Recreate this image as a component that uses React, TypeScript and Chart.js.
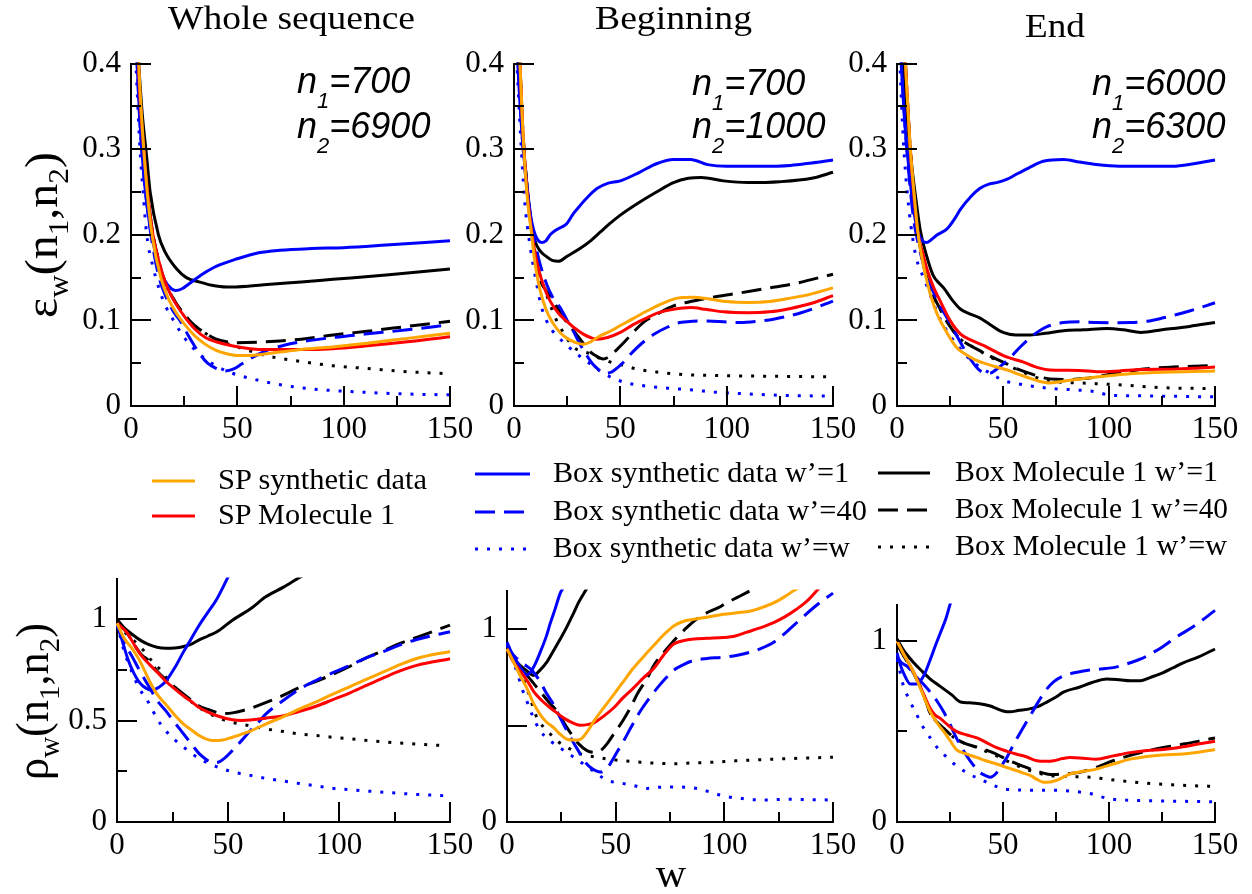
import React, { useEffect, useRef } from "react";
import { Chart, registerables } from "chart.js";

Chart.register(...registerables);

type Pt = [number, number];

// ---------- tick values ----------
const wTicks = [0, 50, 100, 150];
const wMinor = [25, 75, 125];
const epsTicks = [0, 0.1, 0.2, 0.3, 0.4];
const epsMinor = [0.05, 0.15, 0.25, 0.35];
const rhoTicksWhole = [0, 0.5, 1];
const rhoTicksPart = [0, 1];

// ---------- series names ----------
const seriesNames = [
  "SP synthetic data",
  "SP Molecule 1",
  "Box synthetic data w\u2019=1",
  "Box synthetic data w\u2019=40",
  "Box synthetic data w\u2019=w",
  "Box Molecule 1 w\u2019=1",
  "Box Molecule 1 w\u2019=40",
  "Box Molecule 1 w\u2019=w",
];

// ---------- epsilon, whole sequence ----------
const wsSpSyn: Pt[] = [[2,0.5],[4,0.38],[6,0.3],[8,0.24],[10,0.198],[14,0.15],[18,0.123],[22,0.106],[26,0.093],[30,0.082],[35,0.072],[40,0.065],[45,0.061],[50,0.059],[55,0.059],[60,0.06],[70,0.063],[80,0.066],[95,0.069],[110,0.073],[130,0.079],[150,0.085]];
const wsSpMol: Pt[] = [[2,0.5],[4,0.37],[6,0.3],[8,0.245],[10,0.205],[13,0.17],[16,0.145],[20,0.124],[25,0.105],[30,0.09],[35,0.08],[40,0.075],[48,0.07],[56,0.067],[64,0.066],[80,0.066],[95,0.067],[110,0.07],[130,0.075],[150,0.081]];
const wsBoxSyn1: Pt[] = [[2,0.45],[4,0.34],[6,0.27],[8,0.225],[10,0.195],[13,0.165],[16,0.146],[19,0.137],[21,0.135],[24,0.137],[28,0.144],[33,0.153],[40,0.163],[50,0.172],[60,0.179],[70,0.182],[85,0.184],[100,0.185],[120,0.188],[150,0.193]];
const wsBoxSyn40: Pt[] = [[2,0.45],[4,0.34],[6,0.27],[8,0.225],[10,0.19],[13,0.152],[16,0.13],[20,0.11],[23,0.1],[27,0.082],[32,0.062],[36,0.05],[40,0.044],[44,0.041],[48,0.043],[52,0.049],[58,0.058],[64,0.065],[72,0.071],[80,0.075],[95,0.08],[110,0.084],[130,0.089],[150,0.095]];
const wsBoxSynW: Pt[] = [[2,0.42],[4,0.31],[6,0.24],[7.4,0.2],[10.5,0.161],[13.6,0.134],[16,0.118],[20,0.1],[25,0.08],[32,0.061],[40,0.047],[48,0.038],[60,0.03],[72,0.024],[85,0.02],[95,0.018],[110,0.016],[130,0.014],[150,0.013]];
const wsBoxMol1: Pt[] = [[2,0.5],[3,0.43],[5,0.35],[7.4,0.29],[9,0.25],[12.9,0.2],[16,0.18],[21.5,0.16],[26,0.15],[32,0.145],[38,0.141],[45,0.139],[55,0.14],[64,0.142],[80,0.145],[95,0.148],[120,0.153],[150,0.16]];
const wsBoxMol40: Pt[] = [[2,0.5],[4,0.37],[6,0.3],[8,0.245],[10,0.205],[13,0.17],[16,0.145],[20,0.125],[25,0.107],[30,0.094],[35,0.085],[40,0.078],[45,0.075],[50,0.074],[60,0.0745],[70,0.076],[80,0.078],[95,0.083],[110,0.087],[130,0.093],[150,0.099]];
const wsBoxMolW: Pt[] = [[2,0.5],[4,0.37],[6,0.3],[8,0.245],[10,0.205],[13,0.17],[16,0.145],[20,0.125],[25,0.107],[30,0.094],[35,0.085],[40,0.078],[45,0.073],[50,0.069],[55,0.065],[65,0.058],[80,0.052],[95,0.047],[110,0.044],[130,0.04],[147,0.038]];

// ---------- epsilon, beginning ----------
const bgSpSyn: Pt[] = [[2,0.45],[4,0.33],[6,0.25],[8.3,0.2],[10,0.165],[12,0.138],[15,0.113],[18.5,0.096],[22,0.085],[25,0.079],[29,0.074],[32.6,0.072],[36,0.075],[40.5,0.082],[45,0.087],[50,0.094],[56,0.102],[62.5,0.111],[70,0.12],[77,0.126],[84,0.127],[92,0.125],[100,0.122],[110,0.121],[120,0.122],[130,0.126],[140,0.131],[150,0.138]];
const bgSpMol: Pt[] = [[2,0.45],[4,0.33],[6,0.255],[8.5,0.2],[11,0.165],[14,0.14],[17,0.1225],[21,0.108],[24.8,0.099],[28,0.092],[32.6,0.084],[36,0.08],[39,0.078],[44,0.08],[50,0.086],[56,0.095],[62.5,0.103],[68,0.109],[75,0.113],[83,0.115],[90,0.113],[98.5,0.11],[110,0.109],[120,0.11],[130,0.114],[140,0.12],[150,0.129]];
const bgBoxSyn1: Pt[] = [[1,0.45],[2,0.39],[4,0.31],[6,0.26],[8,0.22],[10,0.2],[13,0.191],[15,0.193],[17,0.2],[20,0.206],[24.8,0.213],[28,0.225],[31,0.234],[35,0.245],[39,0.254],[44,0.26],[50,0.263],[59,0.273],[67,0.283],[75,0.288],[83,0.288],[91,0.282],[100,0.28],[115,0.28],[130,0.281],[140,0.284],[150,0.2875]];
const bgBoxSyn40: Pt[] = [[1,0.45],[2,0.4],[4,0.31],[6,0.255],[8,0.215],[10,0.19],[12,0.168],[15.4,0.142],[18,0.128],[21.7,0.115],[25,0.1],[28,0.087],[31,0.0725],[34,0.06],[37,0.049],[40,0.042],[42,0.0385],[45,0.039],[47,0.0416],[51,0.05],[55,0.061],[60,0.073],[66,0.084],[72,0.092],[78,0.0975],[84,0.099],[91,0.0994],[100,0.098],[106,0.0975],[115,0.099],[122,0.1014],[135,0.109],[150,0.1225]];
const bgBoxSynW: Pt[] = [[1,0.42],[3,0.32],[5,0.24],[7.5,0.188],[10.7,0.142],[13,0.115],[17,0.0917],[21,0.08],[25,0.0705],[30,0.06],[36,0.049],[41,0.04],[47,0.032],[53,0.027],[59,0.0243],[67,0.022],[75,0.0204],[85,0.0185],[95,0.016],[106,0.0146],[120,0.013],[135,0.012],[150,0.0116]];
const bgBoxMol1: Pt[] = [[1,0.45],[2,0.4],[4,0.32],[6,0.26],[8,0.215],[10,0.192],[12,0.182],[15,0.175],[18,0.17],[21,0.169],[25,0.175],[31,0.184],[36,0.193],[40.5,0.203],[45,0.213],[50,0.223],[59,0.238],[67,0.25],[75,0.261],[82,0.266],[88,0.267],[98.5,0.263],[110,0.261],[125,0.262],[140,0.266],[150,0.273]];
const bgBoxMol40: Pt[] = [[2,0.45],[4,0.33],[6,0.26],[8.5,0.205],[12,0.15],[15,0.135],[18.5,0.1225],[22,0.108],[25,0.097],[28,0.088],[32,0.075],[36,0.063],[39,0.058],[42,0.055],[45,0.058],[48,0.065],[52,0.075],[56,0.086],[61,0.098],[67,0.107],[75,0.117],[83,0.122],[91,0.126],[106,0.132],[120,0.138],[130,0.142],[150,0.154]];
const bgBoxMolW: Pt[] = [[2,0.42],[4,0.31],[6,0.25],[8.5,0.2],[12,0.155],[16,0.125],[20,0.1],[24,0.083],[28,0.0686],[32,0.064],[36,0.061],[40,0.056],[43.6,0.053],[47,0.05],[51.5,0.0474],[58,0.043],[67,0.0397],[78,0.037],[91,0.0358],[110,0.035],[130,0.0345],[150,0.034]];

// ---------- epsilon, end ----------
const enSpSyn: Pt[] = [[2,0.5],[4,0.4],[6,0.31],[8,0.25],[10,0.2],[13,0.158],[16,0.128],[19,0.107],[23,0.088],[28,0.0686],[32,0.061],[36,0.055],[41,0.05],[47,0.0455],[52,0.042],[56.5,0.0378],[62,0.033],[67,0.029],[72,0.027],[76,0.028],[81.6,0.03],[88,0.032],[94,0.0339],[102,0.036],[110,0.0378],[120,0.039],[130,0.0397],[140,0.0402],[150,0.0408]];
const enSpMol: Pt[] = [[2,0.5],[4,0.4],[6,0.31],[8,0.245],[10,0.2],[12,0.18],[14,0.161],[17,0.14],[20.4,0.1225],[25,0.1],[30,0.084],[35,0.077],[41,0.0705],[46,0.064],[52,0.057],[60,0.051],[65,0.046],[71,0.0424],[78,0.0418],[86,0.0416],[95,0.04],[105,0.041],[115,0.0425],[130,0.043],[140,0.044],[150,0.0455]];
const enBoxSyn1: Pt[] = [[1,0.45],[2,0.4],[4,0.32],[5.5,0.28],[7.5,0.235],[9.7,0.205],[12,0.193],[14,0.191],[16,0.194],[19,0.2],[23.6,0.207],[27,0.218],[30,0.23],[35,0.245],[39,0.254],[43,0.259],[47,0.261],[52,0.265],[56.5,0.271],[62,0.278],[69,0.286],[78.5,0.288],[86,0.285],[94,0.282],[105,0.28],[115,0.28],[130,0.28],[140,0.283],[150,0.2875]];
const enBoxSyn40: Pt[] = [[1,0.45],[2,0.4],[4,0.32],[6,0.26],[8,0.215],[10,0.19],[12.5,0.165],[15.7,0.142],[19,0.123],[23.6,0.103],[28,0.083],[33,0.061],[36,0.05],[39,0.0416],[42,0.0385],[44,0.0385],[47,0.043],[50,0.049],[54,0.058],[58,0.0686],[62,0.078],[66,0.086],[71,0.093],[78.5,0.0975],[86,0.0985],[94,0.0975],[102,0.0973],[110,0.0975],[118,0.099],[125.6,0.103],[138,0.111],[150,0.1206]];
const enBoxSynW: Pt[] = [[1,0.42],[3,0.31],[5,0.245],[7.9,0.188],[10,0.165],[12.6,0.15],[16,0.128],[19,0.109],[23,0.09],[28,0.0725],[33,0.058],[39,0.0455],[45,0.037],[50,0.03],[57,0.026],[66,0.0224],[75,0.02],[86,0.0185],[94,0.0165],[100,0.0127],[110,0.012],[125,0.0115],[140,0.011],[150,0.0108]];
const enBoxMol1: Pt[] = [[2,0.45],[3,0.4],[5,0.33],[7,0.28],[9,0.24],[11,0.205],[14,0.175],[17,0.153],[20,0.143],[22,0.138],[26,0.124],[30,0.113],[34,0.108],[39,0.103],[44,0.095],[50,0.086],[56,0.083],[63,0.083],[70,0.085],[78.5,0.088],[88,0.089],[99,0.0906],[107,0.089],[115,0.086],[125,0.089],[138,0.093],[150,0.0975]];
const enBoxMol40: Pt[] = [[2,0.5],[4,0.4],[6,0.31],[8,0.245],[10,0.2],[13,0.16],[16,0.135],[20,0.115],[25,0.093],[30,0.078],[35,0.07],[39,0.0647],[45,0.057],[52,0.049],[57,0.043],[63,0.0378],[69,0.033],[75,0.0312],[82,0.031],[88,0.032],[95,0.0345],[102,0.0378],[110,0.041],[118,0.0435],[130,0.0455],[140,0.0465],[150,0.0474]];
const enBoxMolW: Pt[] = [[2,0.5],[4,0.4],[6,0.31],[8,0.245],[10,0.2],[13,0.16],[16,0.135],[20,0.115],[25,0.093],[30,0.078],[35,0.07],[40,0.063],[45,0.056],[52,0.048],[58,0.041],[64,0.035],[70,0.03],[76,0.028],[85,0.027],[100,0.0254],[110,0.024],[118,0.0224],[130,0.021],[150,0.0204]];

// ---------- rho, whole sequence ----------
const wsRhoSpSyn: Pt[] = [[0,0.98],[3,0.91],[7.2,0.849],[10,0.8],[14.7,0.694],[18,0.63],[22,0.58],[26,0.528],[30,0.483],[34,0.45],[37,0.426],[40,0.41],[43,0.402],[47,0.403],[52,0.418],[60,0.448],[67,0.483],[75,0.52],[82,0.556],[90,0.593],[97,0.629],[105,0.668],[112,0.702],[120,0.74],[127.5,0.776],[135,0.806],[150,0.841]];
const wsRhoSpMol: Pt[] = [[0,0.98],[4.2,0.938],[8,0.87],[11,0.82],[14.7,0.776],[18,0.74],[22,0.694],[26,0.656],[30,0.621],[34,0.59],[37,0.564],[41,0.542],[45,0.524],[52,0.504],[56,0.501],[60,0.503],[67,0.512],[75,0.524],[82,0.545],[90,0.572],[97,0.602],[105,0.637],[112,0.672],[120,0.711],[127.5,0.745],[135,0.772],[150,0.805]];
const wsRhoBoxSyn1: Pt[] = [[0,0.98],[3,0.87],[5,0.8],[7.2,0.743],[10,0.69],[13,0.66],[16,0.649],[19,0.665],[22,0.694],[26,0.76],[30,0.84],[33,0.895],[37,0.97],[41,1.035],[45,1.1],[50,1.207],[53,1.27]];
const wsRhoBoxSyn40: Pt[] = [[0,0.97],[3,0.89],[7.2,0.808],[10,0.75],[14.7,0.662],[18,0.6],[22,0.548],[26,0.49],[30,0.434],[34,0.378],[37,0.337],[40,0.31],[42,0.296],[44,0.292],[46,0.296],[49,0.32],[52,0.353],[56,0.4],[60,0.45],[64,0.495],[67,0.532],[75,0.6],[82,0.654],[90,0.7],[97,0.735],[105,0.772],[112,0.808],[120,0.84],[127.5,0.873],[135,0.9],[150,0.938]];
const wsRhoBoxSynW: Pt[] = [[0,0.98],[3,0.85],[7.2,0.727],[10,0.66],[14.7,0.58],[18,0.51],[22,0.45],[26,0.405],[30,0.369],[34,0.335],[37,0.312],[41,0.29],[45,0.272],[52,0.247],[60,0.23],[67,0.215],[75,0.202],[82,0.19],[90,0.178],[97,0.166],[105,0.159],[112,0.153],[120,0.147],[127.5,0.141],[135,0.136],[147,0.13]];
const wsRhoBoxMol1: Pt[] = [[0,1.0],[3,0.96],[7.2,0.922],[11,0.893],[14.7,0.873],[18,0.862],[22,0.857],[26,0.858],[30,0.865],[34,0.88],[37,0.898],[41,0.917],[45,0.938],[52,0.995],[60,1.05],[67,1.11],[75,1.158],[83,1.211],[88,1.24]];
const wsRhoBoxMol40: Pt[] = [[0,0.98],[4.2,0.938],[8,0.87],[11,0.825],[14.7,0.792],[18,0.745],[22,0.702],[26,0.665],[30,0.63],[34,0.597],[37,0.572],[41,0.555],[45,0.54],[48,0.535],[52,0.538],[60,0.56],[67,0.589],[75,0.625],[82,0.662],[90,0.695],[97,0.727],[105,0.768],[112,0.808],[120,0.845],[127.5,0.881],[135,0.91],[150,0.971]];
const wsRhoBoxMolW: Pt[] = [[0,0.98],[4,0.93],[8,0.89],[12,0.845],[16,0.79],[20,0.745],[23,0.7],[27,0.655],[31,0.615],[35,0.58],[39,0.55],[43,0.527],[47,0.508],[52,0.491],[60,0.474],[67,0.459],[75,0.446],[82,0.434],[90,0.426],[97,0.418],[105,0.41],[112,0.403],[120,0.395],[127.5,0.389],[135,0.384],[147,0.377]];

// ---------- rho, beginning ----------
const bgRhoSpSyn: Pt[] = [[0,0.898],[3,0.83],[6,0.76],[9.2,0.693],[12,0.62],[15.3,0.557],[18,0.52],[21.5,0.489],[24,0.46],[27.6,0.429],[31,0.425],[33.7,0.429],[37,0.47],[40,0.523],[45,0.6],[49,0.659],[53,0.72],[58,0.796],[63,0.86],[67.5,0.915],[72,0.97],[76.7,1.017],[81,1.04],[86,1.051],[92,1.062],[99.7,1.077],[106,1.085],[112,1.094],[118,1.115],[122.7,1.136],[128,1.17],[132,1.2],[135,1.22]];
const bgRhoSpMol: Pt[] = [[0,0.898],[3,0.83],[7,0.77],[10,0.72],[12.3,0.676],[16,0.63],[20,0.591],[23,0.565],[26,0.54],[30,0.515],[33.7,0.502],[37,0.505],[40,0.514],[44,0.545],[49,0.591],[53,0.64],[58,0.693],[63,0.75],[67.5,0.796],[72,0.865],[76.7,0.923],[81,0.94],[86,0.949],[92,0.953],[99.7,0.957],[105,0.965],[110,0.983],[116,1.005],[122.7,1.034],[128,1.065],[133,1.102],[138,1.145],[142.6,1.2],[145,1.23]];
const bgRhoBoxSyn1: Pt[] = [[0,0.932],[2,0.88],[4.6,0.83],[7.7,0.775],[9,0.762],[10.7,0.775],[13,0.82],[15.3,0.881],[18,0.96],[20,1.034],[22,1.1],[24.5,1.187],[26,1.22],[28,1.3]];
const bgRhoBoxSyn40: Pt[] = [[0,0.93],[2,0.88],[4.6,0.847],[7.5,0.82],[10.7,0.795],[13,0.765],[15.3,0.727],[18,0.67],[21.5,0.608],[24.5,0.54],[27.6,0.472],[30.7,0.41],[33.7,0.353],[36,0.31],[38.3,0.284],[41,0.265],[43,0.259],[45,0.27],[47.5,0.302],[50.5,0.36],[53.7,0.421],[57,0.49],[61.3,0.574],[65,0.635],[69,0.693],[73,0.745],[76.7,0.787],[81,0.815],[86,0.838],[92,0.848],[99.7,0.855],[106,0.865],[112,0.881],[117,0.9],[122.7,0.932],[128,0.98],[135,1.051],[142,1.12],[150,1.187]];
const bgRhoBoxSynW: Pt[] = [[0,0.92],[2,0.85],[4.6,0.778],[7,0.69],[9.2,0.625],[12,0.545],[15.3,0.472],[19,0.43],[23,0.395],[27,0.365],[30.7,0.336],[34,0.31],[38.3,0.276],[42,0.245],[46,0.216],[50,0.205],[53.7,0.199],[58,0.19],[64.4,0.174],[70,0.18],[76.7,0.182],[82,0.18],[87.4,0.174],[92,0.16],[98,0.14],[102,0.13],[107,0.123],[113,0.116],[120,0.114],[128,0.118],[135,0.117],[150,0.114]];
const bgRhoBoxMol1: Pt[] = [[0,0.898],[3,0.85],[6,0.813],[9,0.785],[12.3,0.761],[15,0.785],[18.4,0.83],[21,0.88],[24.5,0.949],[27,1.0],[30.7,1.085],[33,1.14],[36.8,1.213],[39,1.26]];
const bgRhoBoxMol40: Pt[] = [[0,0.898],[3,0.85],[6,0.8],[10,0.75],[15.3,0.676],[19,0.625],[23,0.574],[27,0.5],[30.7,0.438],[33,0.405],[36.8,0.37],[40,0.362],[43,0.37],[46,0.405],[49,0.455],[53,0.52],[56.7,0.591],[60,0.665],[64.4,0.744],[68,0.82],[73.6,0.898],[78,0.955],[82.8,1.009],[87,1.05],[92,1.085],[97,1.11],[101,1.136],[106,1.165],[112,1.2],[115,1.22]];
const bgRhoBoxMolW: Pt[] = [[0,0.9],[3,0.84],[6,0.78],[9,0.7],[11,0.63],[13.8,0.54],[17,0.49],[20,0.455],[23,0.421],[28,0.385],[33.7,0.353],[40,0.338],[46,0.327],[53,0.318],[61.3,0.31],[70,0.304],[76.7,0.302],[85,0.306],[95,0.31],[105,0.317],[115,0.322],[125,0.327],[135,0.331],[150,0.336]];

// ---------- rho, end ----------
const enRhoSpSyn: Pt[] = [[0,1.0],[3,0.93],[7.9,0.825],[12,0.71],[15.7,0.608],[19,0.545],[22,0.5],[25,0.45],[28,0.4],[33,0.375],[37.7,0.356],[42,0.338],[47,0.32],[52,0.3],[56.5,0.283],[60,0.268],[63,0.256],[66,0.235],[69,0.22],[72,0.221],[75,0.229],[78,0.245],[81.6,0.265],[88,0.28],[94,0.292],[102,0.32],[110,0.347],[118,0.362],[125,0.37],[135,0.376],[142,0.385],[150,0.4]];
const enRhoSpMol: Pt[] = [[0,1.0],[3,0.93],[7.9,0.825],[12,0.72],[15.7,0.626],[18,0.59],[20.4,0.572],[24,0.535],[28,0.5],[33,0.48],[37.7,0.464],[42,0.44],[47,0.41],[52,0.39],[56.5,0.374],[61,0.36],[66,0.338],[70,0.335],[74,0.338],[78,0.35],[81.6,0.356],[88,0.352],[94,0.347],[102,0.365],[110,0.383],[118,0.395],[125.6,0.4],[135,0.415],[142,0.43],[150,0.446]];
const enRhoBoxSyn1: Pt[] = [[0,0.933],[1.5,0.87],[3,0.825],[6.3,0.762],[9.4,0.762],[12.6,0.807],[15.7,0.897],[18,0.97],[20.4,1.042],[23,1.12],[25,1.2],[27,1.27]];
const enRhoBoxSyn40: Pt[] = [[0,0.915],[2,0.88],[4.7,0.861],[7,0.83],[9.4,0.798],[12.5,0.76],[15.7,0.717],[19,0.665],[22,0.608],[25,0.54],[28,0.464],[31,0.4],[34.5,0.338],[37,0.3],[39,0.274],[42,0.255],[44,0.247],[46.5,0.265],[48.7,0.301],[52,0.36],[55,0.428],[59,0.51],[63,0.59],[67,0.67],[70.7,0.735],[74,0.775],[78.5,0.807],[83,0.822],[88,0.834],[95,0.843],[102,0.852],[106,0.864],[110,0.879],[115,0.9],[119,0.924],[125,0.965],[132,1.023],[140,1.08],[150,1.168]];
const enRhoBoxSynW: Pt[] = [[0,0.9],[2,0.8],[3,0.753],[6,0.67],[9.4,0.59],[12.5,0.52],[15.7,0.464],[19,0.41],[23.6,0.356],[27,0.32],[31.4,0.283],[35,0.258],[39,0.238],[44,0.21],[50,0.184],[56,0.178],[63,0.175],[70,0.175],[76,0.175],[84,0.168],[91,0.157],[96,0.14],[102,0.125],[110,0.12],[120,0.117],[135,0.114],[150,0.112]];
const enRhoBoxMol1: Pt[] = [[0,1.01],[3,0.95],[7.9,0.879],[12,0.83],[15.7,0.789],[19,0.76],[22,0.735],[26,0.7],[30,0.662],[34,0.658],[39,0.653],[44,0.64],[47,0.626],[50,0.613],[53.4,0.608],[57,0.615],[63,0.626],[67,0.64],[70.7,0.662],[75,0.69],[78.5,0.717],[86,0.744],[92,0.77],[99,0.789],[105,0.785],[110,0.78],[115,0.78],[120,0.8],[125.6,0.825],[130,0.85],[135,0.879],[142,0.91],[150,0.955]];
const enRhoBoxMol40: Pt[] = [[0,0.98],[3,0.92],[7.9,0.82],[12,0.72],[15.7,0.6],[19,0.55],[23.6,0.5],[27,0.465],[31.4,0.437],[35,0.422],[39,0.41],[43,0.393],[47,0.374],[51,0.35],[55,0.329],[59,0.31],[63,0.292],[67,0.277],[70.7,0.265],[74,0.262],[78.5,0.265],[82,0.268],[86,0.274],[90,0.287],[94,0.301],[98,0.32],[102,0.338],[110,0.368],[118,0.392],[125,0.41],[135,0.43],[142,0.445],[150,0.464]];
const enRhoBoxMolW: Pt[] = [[0,0.98],[3,0.92],[7.9,0.82],[12,0.72],[15.7,0.6],[19,0.55],[23.6,0.5],[27,0.465],[31.4,0.437],[35,0.422],[39,0.405],[43,0.385],[47,0.365],[51,0.342],[55,0.32],[59,0.3],[63,0.283],[67,0.268],[71,0.258],[76,0.252],[82,0.25],[91,0.247],[100,0.235],[110,0.222],[120,0.212],[130,0.205],[140,0.2],[150,0.197]];

// ---------- styles ----------
const ORANGE = "#ffa500";
const RED = "#ff0000";
const BLUE = "#0000ff";
const BLACK = "#000000";
const DASH = [20, 9];
const DOT = [3, 9];
const STYLES = [
  { color: ORANGE, dash: [] as number[] },
  { color: RED, dash: [] as number[] },
  { color: BLUE, dash: [] as number[] },
  { color: BLUE, dash: DASH },
  { color: BLUE, dash: DOT },
  { color: BLACK, dash: [] as number[] },
  { color: BLACK, dash: DASH },
  { color: BLACK, dash: DOT },
];

const PAD_L = 70, PAD_T = 25, PAD_R = 32, PAD_B = 45;
const TICK_FONT = { family: "'Liberation Serif', 'Times New Roman', serif", size: 31 };

type Panel = {
  left: number; top: number; right: number; bottom: number;
  yMax: number; yLabels: number[]; yMajor: number[]; yMinor: number[];
  series: Pt[][];
};

const PANELS: Panel[] = [
  { left: 131, top: 60, right: 450, bottom: 406, yMax: 0.4, yLabels: epsTicks, yMajor: epsTicks, yMinor: epsMinor,
    series: [wsSpSyn, wsSpMol, wsBoxSyn1, wsBoxSyn40, wsBoxSynW, wsBoxMol1, wsBoxMol40, wsBoxMolW] },
  { left: 514, top: 60, right: 833, bottom: 406, yMax: 0.4, yLabels: epsTicks, yMajor: epsTicks, yMinor: epsMinor,
    series: [bgSpSyn, bgSpMol, bgBoxSyn1, bgBoxSyn40, bgBoxSynW, bgBoxMol1, bgBoxMol40, bgBoxMolW] },
  { left: 897, top: 60, right: 1215, bottom: 406, yMax: 0.4, yLabels: epsTicks, yMajor: epsTicks, yMinor: epsMinor,
    series: [enSpSyn, enSpMol, enBoxSyn1, enBoxSyn40, enBoxSynW, enBoxMol1, enBoxMol40, enBoxMolW] },
  { left: 117, top: 575, right: 450, bottom: 822, yMax: 1.2, yLabels: rhoTicksWhole, yMajor: [0, 0.5, 1], yMinor: [0.25, 0.75],
    series: [wsRhoSpSyn, wsRhoSpMol, wsRhoBoxSyn1, wsRhoBoxSyn40, wsRhoBoxSynW, wsRhoBoxMol1, wsRhoBoxMol40, wsRhoBoxMolW] },
  { left: 507, top: 587, right: 833, bottom: 822, yMax: 1.2, yLabels: rhoTicksPart, yMajor: [0, 0.5, 1], yMinor: [],
    series: [bgRhoSpSyn, bgRhoSpMol, bgRhoBoxSyn1, bgRhoBoxSyn40, bgRhoBoxSynW, bgRhoBoxMol1, bgRhoBoxMol40, bgRhoBoxMolW] },
  { left: 897, top: 601, right: 1215, bottom: 822, yMax: 1.2, yLabels: rhoTicksPart, yMajor: [0, 1], yMinor: [0.5],
    series: [enRhoSpSyn, enRhoSpMol, enRhoBoxSyn1, enRhoBoxSyn40, enRhoBoxSynW, enRhoBoxMol1, enRhoBoxMol40, enRhoBoxMolW] },
];

function innerTicksFor(p: Panel) {
  return {
    id: "innerTicks",
    afterDatasetsDraw(chart: any) {
      const { ctx, chartArea, scales } = chart;
      const xs = scales.x, ys = scales.y;
      ctx.save();
      ctx.setLineDash([]);
      ctx.strokeStyle = "#000";
      ctx.lineWidth = 2;
      ctx.beginPath();
      const xt = (v: number, len: number) => {
        const px = Math.round(xs.getPixelForValue(v));
        ctx.moveTo(px, chartArea.bottom);
        ctx.lineTo(px, chartArea.bottom - len);
      };
      const yt = (v: number, len: number) => {
        const py = Math.round(ys.getPixelForValue(v));
        ctx.moveTo(chartArea.left, py);
        ctx.lineTo(chartArea.left + len, py);
      };
      wTicks.forEach((v) => xt(v, 20));
      wMinor.forEach((v) => xt(v, 10));
      p.yMajor.forEach((v) => yt(v, 20));
      p.yMinor.forEach((v) => yt(v, 10));
      ctx.stroke();
      ctx.restore();
    },
  };
}

function makeChart(canvas: HTMLCanvasElement, p: Panel) {
  const datasets = STYLES.map((s, i) => ({
    label: seriesNames[i],
    data: p.series[i].map(([x, y]) => ({ x, y })),
    borderColor: s.color,
    backgroundColor: s.color,
    borderDash: s.dash,
    borderWidth: 3,
    borderCapStyle: "butt" as const,
    pointRadius: 0,
    fill: false,
    cubicInterpolationMode: "monotone" as const,
    clip: 1,
  }));
  return new Chart(canvas, {
    type: "line",
    data: { datasets },
    plugins: [innerTicksFor(p)],
    options: {
      animation: false,
      responsive: false,
      devicePixelRatio: 1,
      events: [],
      layout: { padding: { top: PAD_T, right: PAD_R, left: 0, bottom: 0 } },
      plugins: {
        legend: { display: false },
        tooltip: { enabled: false },
      },
      scales: {
        x: {
          type: "linear",
          min: 0,
          max: 150,
          afterBuildTicks: (s: any) => { s.ticks = wTicks.map((v) => ({ value: v })); },
          afterFit: (s: any) => { s.height = PAD_B; },
          grid: { display: false, drawTicks: false },
          border: { display: true, color: "#000", width: 2 },
          ticks: { font: TICK_FONT, color: "#000", padding: 5, maxRotation: 0, autoSkip: false, callback: (v: any) => String(v) },
        },
        y: {
          type: "linear",
          min: 0,
          max: p.yMax,
          afterBuildTicks: (s: any) => { s.ticks = p.yLabels.map((v) => ({ value: v })); },
          afterFit: (s: any) => { s.width = PAD_L; },
          grid: { display: false, drawTicks: false },
          border: { display: true, color: "#000", width: 2 },
          ticks: { font: TICK_FONT, color: "#000", padding: 10, autoSkip: false, callback: (v: any) => String(v) },
        },
      },
    } as any,
  });
}

const SERIF = "'Liberation Serif', 'Times New Roman', serif";
const SANS = "'Liberation Sans', Arial, sans-serif";

const LEGEND_LAYOUT = [
  { x1: 152, x2: 195, y: 481, tx: 218, len: 209 },
  { x1: 152, x2: 195, y: 516, tx: 218, len: 177 },
  { x1: 475, x2: 530, y: 474, tx: 553, len: 296 },
  { x1: 475, x2: 530, y: 512, tx: 553, len: 314 },
  { x1: 475, x2: 530, y: 549, tx: 553, len: 297 },
  { x1: 878, x2: 930, y: 473, tx: 955, len: 263 },
  { x1: 878, x2: 930, y: 510, tx: 955, len: 273 },
  { x1: 878, x2: 930, y: 547, tx: 955, len: 272 },
];

const ANNOTATIONS = [
  { x: 297, y1: 93, y2: 138, a: "700", b: "6900" },
  { x: 692, y1: 95, y2: 138, a: "700", b: "1000" },
  { x: 1092, y1: 95, y2: 138, a: "6000", b: "6300" },
];

function Sub({ x, y, sub, rest }: { x: number; y: number; sub: string; rest: string }) {
  return (
    <text x={x} y={y} fontFamily={SANS} fontStyle="italic" fontSize={36} fill="#000">
      n<tspan fontSize={22} dy={15}>{sub}</tspan><tspan fontSize={36} dy={-15}>={rest}</tspan>
    </text>
  );
}

export default function App() {
  const refs = useRef<(HTMLCanvasElement | null)[]>([]);
  useEffect(() => {
    const charts = PANELS.map((p, i) => makeChart(refs.current[i] as HTMLCanvasElement, p));
    return () => { charts.forEach((c) => c.destroy()); };
  }, []);

  return (
    <div style={{ position: "fixed", left: 0, top: 0, width: 1252, height: 894, background: "#fff", overflow: "hidden" }}>
      {PANELS.map((p, i) => {
        const w = p.right - p.left + PAD_L + PAD_R;
        const h = p.bottom - p.top + PAD_T + PAD_B;
        return (
          <canvas
            key={i}
            ref={(el) => { refs.current[i] = el; }}
            width={w}
            height={h}
            style={{ position: "absolute", left: p.left - PAD_L, top: p.top - PAD_T, width: w, height: h }}
          />
        );
      })}
      <svg width={1252} height={894} style={{ position: "absolute", left: 0, top: 0, pointerEvents: "none" }}>
        {/* panel titles */}
        <text x={168} y={29} fontFamily={SERIF} fontSize={33} textLength={247} lengthAdjust="spacingAndGlyphs">Whole sequence</text>
        <text x={595} y={29} fontFamily={SERIF} fontSize={33} textLength={157} lengthAdjust="spacingAndGlyphs">Beginning</text>
        <text x={1025} y={37} fontFamily={SERIF} fontSize={33} textLength={60} lengthAdjust="spacingAndGlyphs">End</text>

        {/* n1/n2 annotations */}
        {ANNOTATIONS.map((a, i) => (
          <g key={i}>
            <Sub x={a.x} y={a.y1} sub="1" rest={a.a} />
            <Sub x={a.x} y={a.y2} sub="2" rest={a.b} />
          </g>
        ))}

        {/* y axis labels */}
        <text transform="translate(57,318) rotate(-90)" fontFamily={SERIF} fontSize={46} textLength={166} lengthAdjust="spacingAndGlyphs">
          ε<tspan fontSize={30} dy={11}>w</tspan><tspan fontSize={46} dy={-11}>(n</tspan><tspan fontSize={30} dy={11}>1</tspan><tspan fontSize={46} dy={-11}>,n</tspan><tspan fontSize={30} dy={11}>2</tspan><tspan fontSize={46} dy={-11}>)</tspan>
        </text>
        <text transform="translate(48,780) rotate(-90)" fontFamily={SERIF} fontSize={46} textLength={157} lengthAdjust="spacingAndGlyphs">
          ρ<tspan fontSize={30} dy={11}>w</tspan><tspan fontSize={46} dy={-11}>(n</tspan><tspan fontSize={30} dy={11}>1</tspan><tspan fontSize={46} dy={-11}>,n</tspan><tspan fontSize={30} dy={11}>2</tspan><tspan fontSize={46} dy={-11}>)</tspan>
        </text>

        {/* x axis label */}
        <text x={671} y={887} fontFamily={SERIF} fontSize={42} textAnchor="middle">w</text>

        {/* legend */}
        {LEGEND_LAYOUT.map((l, i) => (
          <g key={i}>
            <line x1={l.x1} x2={l.x2} y1={l.y} y2={l.y} stroke={STYLES[i].color} strokeWidth={3}
              strokeDasharray={STYLES[i].dash.length ? STYLES[i].dash.join(" ") : undefined} />
            <text x={l.tx} y={l.y + 8} fontFamily={SERIF} fontSize={30} textLength={l.len} lengthAdjust="spacingAndGlyphs">{seriesNames[i]}</text>
          </g>
        ))}
      </svg>
    </div>
  );
}
